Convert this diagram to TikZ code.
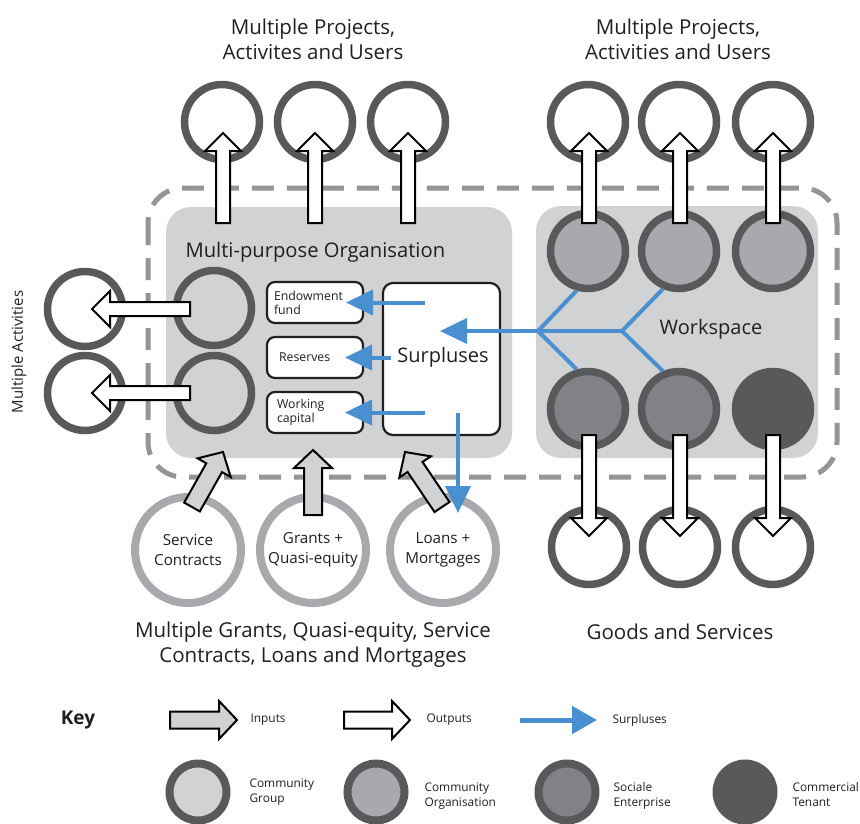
\documentclass[tikz,border=0pt]{standalone}
\usepackage{fontspec}
\setmainfont{Open Sans}
\usetikzlibrary{arrows.meta}
\definecolor{dk}{HTML}{58595B}
\definecolor{lg}{HTML}{D1D2D4}
\definecolor{mg}{HTML}{A7A9AC}
\definecolor{sg}{HTML}{808285}
\definecolor{dg}{HTML}{939598}
\definecolor{bl}{HTML}{4A8FD0}
\definecolor{tx}{HTML}{231F20}
% block arrow: #1 fill, #2 from, #3 to, #4 shaft half width, #5 head half width
\newcommand\blockarr[5]{%
  \pgfpointdiff{\pgfpointanchor{#2}{center}}{\pgfpointanchor{#3}{center}}%
  \pgfgetlastxy{\bdx}{\bdy}%
  \pgfmathsetmacro\bang{atan2(\bdy,\bdx)}%
  \pgfmathsetmacro\blen{veclen(\bdx,\bdy)}%
  \pgfmathsetmacro\bneck{\blen-18}%
  \draw[line width=2pt,draw=black,fill=#1,line join=miter,shift={(#2)},rotate=\bang]
    (0pt,-#4pt) -- (\bneck pt,-#4pt) -- (\bneck pt,-#5pt) -- (\blen pt,0pt)
    -- (\bneck pt,#5pt) -- (\bneck pt,#4pt) -- (0pt,#4pt) -- cycle;}
\tikzset{
  circ/.style={circle,draw=dk,line width=7.5pt,minimum size=75pt,inner sep=0pt},
  incirc/.style={circle,draw=mg,line width=8pt,minimum size=106pt,inner sep=0pt,fill=white,
    align=center,font=\fontsize{15.2}{19.5}\selectfont},
  keycirc/.style={circle,draw=dk,line width=8pt,minimum size=57pt,inner sep=0pt},
  fundbox/.style={draw=tx,line width=2.2pt,rounded corners=8pt,fill=white,minimum width=96pt,
    minimum height=41pt,inner sep=0pt,text width=82pt,align=left,font=\fontsize{12.3}{13.8}\selectfont},
  surbox/.style={draw=tx,line width=2.2pt,rounded corners=10pt,fill=white,minimum width=117pt,
    minimum height=152pt,inner sep=0pt},
  bluearr/.style={draw=bl,line width=4pt,-{Triangle[length=27pt,width=25pt]}},
  blueline/.style={draw=bl,line width=4pt},
  title/.style={font=\fontsize{20.5}{25}\selectfont,align=center},
  keylab/.style={font=\fontsize{11.9}{15}\selectfont,align=left,anchor=west},
  graybox/.style={fill=lg,rounded corners=25pt},
}
\begin{document}
\begin{tikzpicture}[x=1pt,y=-1pt,every node/.style={text=tx}]
\useasboundingbox[fill=white] (0,0) rectangle (860,823);
% dashed boundary
\draw[dg,line width=5pt,dash pattern=on 22pt off 13pt,rounded corners=35pt] (148,188) rectangle (837,477);
% gray boxes
\fill[graybox] (166,207) rectangle (512,458);
\fill[graybox] (536,206) rectangle (818,458);
% top outer circles
\node[circ,fill=white] (ol1) at (222,122) {};
\node[circ,fill=white] (ol2) at (315,122) {};
\node[circ,fill=white] (ol3) at (408,122) {};
\node[circ,fill=white] (or1) at (588,122) {};
\node[circ,fill=white] (or2) at (679,122) {};
\node[circ,fill=white] (or3) at (773,122) {};
% workspace circles
\node[circ,fill=mg] (wt1) at (588,251) {};
\node[circ,fill=mg] (wt2) at (679,251) {};
\node[circ,fill=mg] (wt3) at (773,251) {};
\node[circ,fill=sg] (wb1) at (588,409) {};
\node[circ,fill=sg] (wb2) at (679,409) {};
\node[circ,fill=dk] (wb3) at (773,409) {};
% bottom outer circles
\node[circ,fill=white] (ob1) at (589,547) {};
\node[circ,fill=white] (ob2) at (680,547) {};
\node[circ,fill=white] (ob3) at (773,547) {};
% community group circles and outer activities
\node[circ,fill=lg] (cg1) at (214,308) {};
\node[circ,fill=lg] (cg2) at (214,393) {};
\node[circ,fill=white] (oa1) at (85,309) {};
\node[circ,fill=white] (oa2) at (85,393) {};
% input circles
\node[incirc] (ic1) at (188,550) {Service\\Contracts};
\node[incirc] (ic2) at (313,550) {Grants +\\Quasi-equity};
\node[incirc] (ic3) at (443,550) {Loans +\\Mortgages};
% fund boxes
\node[fundbox] (endow) at (315,302.5) {Endowment\\fund};
\node[fundbox] (reserves) at (315,357.5) {\hspace*{5pt}Reserves};
\node[fundbox] (working) at (315,412.5) {\hspace*{3pt}Working\\\hspace*{3pt}capital};
\node[surbox] (surbox) at (441.5,359) {};
\node[font=\fontsize{20}{24}\selectfont] (surtext) at (443,357) {Surpluses};
% coordinates for arrows
\coordinate (aL1s) at (223,223); \coordinate (aL1e) at (223,133);
\coordinate (aL2s) at (315,223); \coordinate (aL2e) at (315,133);
\coordinate (aL3s) at (408,223); \coordinate (aL3e) at (408,133);
\coordinate (aR1s) at (589,223); \coordinate (aR1e) at (589,133);
\coordinate (aR2s) at (680,223); \coordinate (aR2e) at (680,133);
\coordinate (aR3s) at (773,223); \coordinate (aR3e) at (773,133);
\coordinate (aB1s) at (589,435); \coordinate (aB1e) at (589,536);
\coordinate (aB2s) at (680,435); \coordinate (aB2e) at (680,536);
\coordinate (aB3s) at (773,435); \coordinate (aB3e) at (773,536);
\coordinate (aA1s) at (190,309); \coordinate (aA1e) at (92,309);
\coordinate (aA2s) at (190,393); \coordinate (aA2e) at (92,393);
\coordinate (iA1s) at (192,507); \coordinate (iA1e) at (223,452);
\coordinate (iA2s) at (313,515); \coordinate (iA2e) at (313,450);
\coordinate (iA3s) at (442,507); \coordinate (iA3e) at (405,452);
% output arrows
\blockarr{white}{aL1s}{aL1e}{7}{18}
\blockarr{white}{aL2s}{aL2e}{7}{18}
\blockarr{white}{aL3s}{aL3e}{7}{18}
\blockarr{white}{aR1s}{aR1e}{7}{18}
\blockarr{white}{aR2s}{aR2e}{7}{18}
\blockarr{white}{aR3s}{aR3e}{7}{18}
\blockarr{white}{aB1s}{aB1e}{7}{18}
\blockarr{white}{aB2s}{aB2e}{7}{18}
\blockarr{white}{aB3s}{aB3e}{7}{18}
\blockarr{white}{aA1s}{aA1e}{7}{18}
\blockarr{white}{aA2s}{aA2e}{7}{18}
% input arrows
\blockarr{lg}{iA1s}{iA1e}{9}{19}
\blockarr{lg}{iA2s}{iA2e}{9}{19}
\blockarr{lg}{iA3s}{iA3e}{9}{19}
% blue surplus flows
\coordinate (j1) at (538,331);
\coordinate (j2) at (622,331);
\coordinate (tb4) at (440,331);
\coordinate (sb1) at (425,302.5); \coordinate (te1) at (346,302.5);
\coordinate (sb2) at (391,357.5); \coordinate (te2) at (345,357.5);
\coordinate (sb3) at (425,412.5); \coordinate (te3) at (345,412.5);
\coordinate (sb5) at (458,413);
\coordinate (tb5) at (458,513);
\draw[blueline] (wt1.254) -- (j1) -- (wb1.106);
\draw[blueline] (wt2.247) -- (j2) -- (wb2.113);
\draw[blueline] (j1) -- (j2);
\draw[bluearr] (j1) -- (tb4);
\draw[bluearr] (sb1) -- (te1);
\draw[bluearr] (sb2) -- (te2);
\draw[bluearr] (sb3) -- (te3);
\draw[bluearr] (sb5) -- (tb5);
% texts
\node[title] (t1) at (313,39) {Multiple Projects,\\Activites and Users};
\node[title] (t2) at (678,39) {Multiple Projects,\\Activities and Users};
\node[font=\fontsize{20.2}{24}\selectfont,anchor=west] (mpo) at (182,252) {Multi-purpose Organisation};
\node[font=\fontsize{20}{24}\selectfont] (ws) at (711,329) {Workspace};
\node[font=\fontsize{15}{18}\selectfont,rotate=90] (ma) at (19,352) {Multiple Activities};
\node[title] (t3) at (313,645) {Multiple Grants, Quasi-equity, Service\\Contracts, Loans and Mortgages};
\node[title] (t4) at (680,632) {Goods and Services};
% key
\node[font=\fontsize{19}{22}\selectfont\bfseries] (key) at (78,720) {Key};
\coordinate (k1s) at (170,720); \coordinate (k1e) at (237,720);
\coordinate (k2s) at (344,720); \coordinate (k2e) at (410,720);
\coordinate (k3s) at (520,720); \coordinate (k3e) at (597,720);
\blockarr{lg}{k1s}{k1e}{8.5}{19}
\blockarr{white}{k2s}{k2e}{8.5}{19}
\draw[draw=bl,line width=5pt,-{Triangle[length=25pt,width=27pt]}] (k3s) -- (k3e);
\node[keylab] (kl1) at (247,720) {Inputs};
\node[keylab] (kl2) at (423,720) {Outputs};
\node[keylab] (kl3) at (609,720) {Surpluses};
\node[keycirc,fill=lg] (kc1) at (198,792) {};
\node[keycirc,fill=mg] (kc2) at (376,792) {};
\node[keycirc,fill=sg] (kc3) at (567,792) {};
\node[keycirc,fill=dk] (kc4) at (745,792) {};
\node[keylab] (kt1) at (246,792) {Community\\Group};
\node[keylab] (kt2) at (421,796) {Community\\Organisation};
\node[keylab] (kt3) at (610,796) {Sociale\\Enterprise};
\node[keylab] (kt4) at (789,795) {Commercial\\Tenant};
\end{tikzpicture}
\end{document}
